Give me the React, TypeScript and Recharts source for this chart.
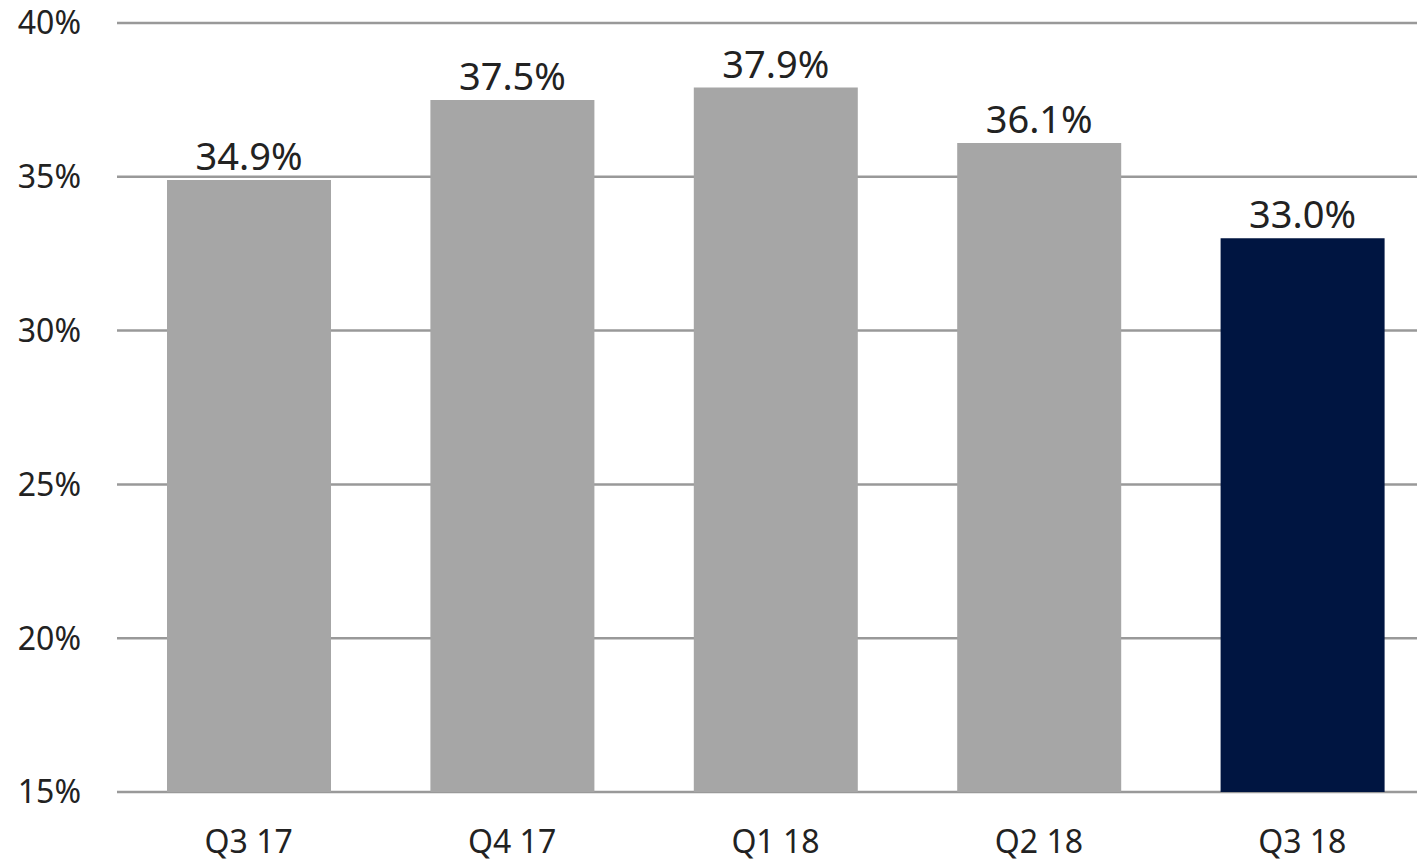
import React from 'react';
import { BarChart, Bar, XAxis, YAxis, CartesianGrid, Cell, LabelList } from 'recharts';

const quarters = ['Q3 17', 'Q4 17', 'Q1 18', 'Q2 18', 'Q3 18'];
const ratios = [34.9, 37.5, 37.9, 36.1, 33.0];
const yTicks = [15, 20, 25, 30, 35, 40];

const GRAY = '#a6a6a6';
const NAVY = '#001541';

const data = quarters.map((q, i) => ({ quarter: q, value: ratios[i] }));

const App: React.FC = () => {
  return (
    <div style={{ position: 'absolute', left: 0, top: 0, width: 1417, height: 864, overflow: 'hidden', background: '#fff', fontFamily: '"Noto Sans", "Open Sans", sans-serif' }}>
      {/* plot runs a little past the right edge, like the source image */}
      <BarChart
        width={1434}
        height={864}
        data={data}
        margin={{ top: 23, right: 0, left: 0, bottom: 0 }}
        barSize={164}
      >
        <CartesianGrid vertical={false} stroke="#999999" strokeWidth={2.5} />
        <XAxis
          dataKey="quarter"
          axisLine={false}
          tickLine={false}
          tickSize={0}
          tickMargin={38}
          height={72}
          tick={{ fill: '#222', fontSize: 32 }}
        />
        <YAxis
          domain={[15, 40]}
          ticks={yTicks}
          axisLine={false}
          tickLine={false}
          tickSize={0}
          tickMargin={36}
          width={117}
          tickFormatter={(v: number) => `${v}%`}
          tick={{ fill: '#222', fontSize: 32 }}
        />
        <Bar dataKey="value" isAnimationActive={false}>
          {data.map((d, i) => (
            <Cell key={d.quarter} fill={i === data.length - 1 ? NAVY : GRAY} />
          ))}
          <LabelList
            dataKey="value"
            position="top"
            offset={10}
            formatter={(v: number) => `${v.toFixed(1)}%`}
            style={{ fill: '#222', fontSize: 38 }}
          />
        </Bar>
      </BarChart>
    </div>
  );
};

export default App;
